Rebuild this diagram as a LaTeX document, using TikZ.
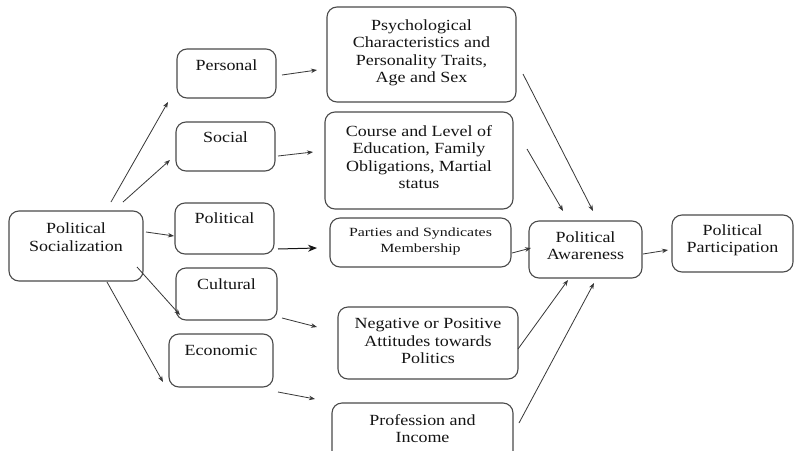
\documentclass[tikz,border=0pt]{standalone}
\usepackage{fontspec}
\setmainfont{Liberation Serif}[FakeStretch=1.16]
\newfontfamily\widefont{Liberation Serif}[FakeStretch=1.27]
\usetikzlibrary{arrows.meta}
\definecolor{boxline}{HTML}{4A4A4A}
\definecolor{ink}{HTML}{141414}
\tikzset{
  box/.style={draw=boxline, line width=1.1pt, rounded corners=10pt, inner sep=0pt},
  txt/.style={align=center, text=ink, inner sep=0pt, font=\fontsize{15.5}{17.5}\selectfont},
  smalltxt/.style={align=center, text=ink, inner sep=0pt, font=\widefont\fontsize{12.5}{16.5}\selectfont},
  arr/.style={draw=ink!85, line width=0.8pt, -{Stealth[length=6pt,width=4.5pt]}},
  bigarr/.style={draw=ink, line width=1pt, -{Stealth[length=9pt,width=7pt]}}
}
\begin{document}
\begin{tikzpicture}[x=1pt,y=-1pt]
\clip (0,0) rectangle (794,450);
\fill[white] (0,0) rectangle (794,450);
% boxes
\node[box, minimum width=134, minimum height=70] (soc) at (76,246) {};
\node[box, minimum width=99, minimum height=49] (per) at (226.5,73.5) {};
\node[box, minimum width=99, minimum height=49] (socl) at (225.5,146.5) {};
\node[box, minimum width=99, minimum height=51] (pol) at (224.5,228.5) {};
\node[box, minimum width=101, minimum height=52] (cul) at (226.5,294) {};
\node[box, minimum width=104, minimum height=53] (eco) at (221,360.5) {};
\node[box, minimum width=189, minimum height=95] (psy) at (421.5,54.5) {};
\node[box, minimum width=188, minimum height=97] (cou) at (419,160.5) {};
\node[box, minimum width=181, minimum height=49] (par) at (420.5,242.5) {};
\node[box, minimum width=180, minimum height=72] (neg) at (428,343) {};
\node[box, minimum width=181, minimum height=59] (pro) at (422.5,432.5) {};
\node[box, minimum width=113, minimum height=57] (awa) at (585.5,249.5) {};
\node[box, minimum width=121, minimum height=57] (part) at (732.5,243.5) {};
% texts
\node[txt] (soct) at (76,237) {Political\\Socialization};
\node[txt] (pert) at (226.5,65) {Personal};
\node[txt] (soclt) at (225.5,137) {Social};
\node[txt] (polt) at (224.5,218) {Political};
\node[txt] (cult) at (226.5,284) {Cultural};
\node[txt] (ecot) at (221,350) {Economic};
\node[txt] (psyt) at (421.5,53) {Psychological\\Characteristics and\\Personality Traits,\\Age and Sex};
\node[txt] (cout) at (419,157) {Course and Level of\\Education, Family\\Obligations, Martial\\status};
\node[smalltxt] (part0) at (420.5,241.5) {Parties and Syndicates\\Membership};
\node[txt] (negt) at (428,341) {Negative or Positive\\Attitudes towards\\Politics};
\node[txt] (prot) at (422.5,428.5) {Profession and\\Income};
\node[txt] (awat) at (585.5,245.5) {Political\\Awareness};
\node[txt] (partt) at (732.5,240.5) {Political\\Participation};
% arrows
\draw[arr] ([shift={(35,-44)}]soc.center) -- ([shift={(-58.5,28.5)}]per.center);
\draw[arr] ([shift={(47,-44)}]soc.center) -- ([shift={(-55.5,13.5)}]socl.center);
\draw[arr] ([shift={(70,-14)}]soc.center) -- ([shift={(-50.5,7.5)}]pol.center);
\draw[arr] ([shift={(61,21)}]soc.center) -- ([shift={(-46.5,21)}]cul.center);
\draw[arr] ([shift={(31,36)}]soc.center) -- ([shift={(-58,21.5)}]eco.center);
\draw[arr] ([shift={(55.5,1.5)}]per.center) -- ([shift={(-104.5,15.5)}]psy.center);
\draw[arr] ([shift={(52.5,9.5)}]socl.center) -- ([shift={(-106,-8.5)}]cou.center);
\draw[bigarr] ([shift={(53.5,20.5)}]pol.center) -- ([shift={(-103.5,5.5)}]par.center);
\draw[arr] ([shift={(55.5,24)}]cul.center) -- ([shift={(-111,-16)}]neg.center);
\draw[arr] ([shift={(57,31.5)}]eco.center) -- ([shift={(-107.5,-33.5)}]pro.center);
\draw[arr] ([shift={(101.5,19.5)}]psy.center) -- ([shift={(7.5,-38.5)}]awa.center);
\draw[arr] ([shift={(108,-11.5)}]cou.center) -- ([shift={(-22.5,-38.5)}]awa.center);
\draw[arr] ([shift={(91.5,10.5)}]par.center) -- ([shift={(-54.5,-1.5)}]awa.center);
\draw[arr] ([shift={(90,6)}]neg.center) -- ([shift={(-17.5,30.5)}]awa.center);
\draw[arr] ([shift={(96.5,-9.5)}]pro.center) -- ([shift={(8.5,33.5)}]awa.center);
\draw[arr] ([shift={(57.5,4.5)}]awa.center) -- ([shift={(-64.5,6.5)}]part.center);
\end{tikzpicture}
\end{document}
